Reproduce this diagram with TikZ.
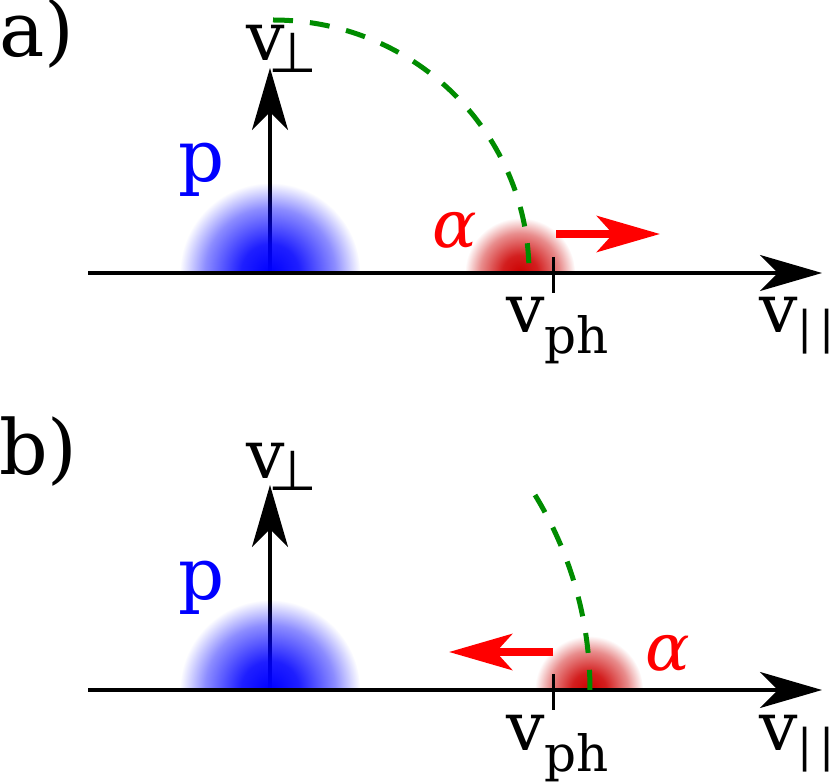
\documentclass[tikz,border=0pt]{standalone}
\usepackage{fontspec}
\setmainfont{DejaVu Serif}
\newfontfamily\dvsans{DejaVu Sans}
\usetikzlibrary{arrows.meta,fadings}
\definecolor{dgreen}{RGB}{0,140,0}
\definecolor{blobred}{RGB}{205,0,0}
\definecolor{pblue}{RGB}{0,0,255}
\definecolor{ared}{RGB}{255,0,0}
\pgfdeclareradialshading{blobmask}{\pgfpoint{0bp}{0bp}}{color(0bp)=(white); color(8bp)=(white!88!black); color(18bp)=(white!45!black); color(25bp)=(black); color(50bp)=(black)}
\pgfdeclarefading{blobfade}{\pgfuseshading{blobmask}}
\tikzset{
  axisarrow/.style={line width=3.2pt, -{Stealth[length=62pt,width=36pt,inset=18pt]}},
  tickmark/.style={line width=3pt},
  phasecurve/.style={dgreen, line width=5pt, dash pattern=on 20pt off 17pt},
  driftarrow/.style={ared, line width=8pt, -{Stealth[length=63pt,width=36pt,inset=16pt]}},
  lbl/.style={inner sep=0pt, anchor=base west, font=\fontsize{68}{68}\selectfont},
}
\newcommand{\subtxt}[2]{\raisebox{-#1pt}{\fontsize{50}{50}\selectfont #2}}
\newcommand{\perpsub}{\kern-16pt\raisebox{-12pt}{\dvsans\fontsize{56}{56}\selectfont ⊥}}
\newcommand{\parsub}{\raisebox{-11pt}{\fontsize{45}{45}\selectfont |\kern7pt|}}
\begin{document}
\begin{tikzpicture}[x=1pt,y=-1pt]
\useasboundingbox (0,0) rectangle (830,783);
% ---------------- panel a ----------------
\coordinate (oa) at (270,273);
\coordinate (ya) at (270,68);
\coordinate (xla) at (88,273);
\coordinate (xra) at (822,273);
\coordinate (ttopa) at (553,257);
\coordinate (tbota) at (553,293);
\coordinate (arca) at (273,20);
\coordinate (dsa) at (556,234);
\coordinate (dea) at (660,234);
\begin{scope}
  \clip (450,200) rectangle (600,273);
  \fill[blobred, path fading=blobfade] (520,273) circle[radius=55];
\end{scope}
\draw[axisarrow] (oa) -- (ya);
\begin{scope}
  \clip (170,170) rectangle (370,273);
  \fill[pblue, path fading=blobfade] (oa) circle[radius=90];
\end{scope}
\draw[axisarrow] (xla) -- (xra);
\draw[tickmark] (ttopa) -- (tbota);
\draw[phasecurve] (arca) arc[start angle=-90, end angle=0, x radius=256, y radius=253];
\draw[driftarrow] (dsa) -- (dea);
\node[lbl, font=\fontsize{76}{76}\selectfont] (laba) at (-1,57) {a)};
\node[lbl, text=pblue, font=\fontsize{72}{72}\selectfont] (pa) at (178,182) {p};
\node[lbl] (vperpa) at (246,61) {v\perpsub};
\node[lbl] (vpha) at (506,333) {v\subtxt{21}{ph}};
\node[lbl] (vpara) at (759,333) {v\parsub};
\node[lbl, text=ared, font=\itshape\fontsize{66}{66}\selectfont] (alphaa) at (432,248) {α};
% ---------------- panel b ----------------
\coordinate (ob) at (270,690);
\coordinate (yb) at (270,485);
\coordinate (xlb) at (88,690);
\coordinate (xrb) at (822,690);
\coordinate (ttopb) at (553,674);
\coordinate (tbotb) at (553,710);
\coordinate (arcb) at (535,495);
\coordinate (dsb) at (553,652);
\coordinate (deb) at (449,652);
\begin{scope}
  \clip (520,620) rectangle (660,690);
  \fill[blobred, path fading=blobfade] (589,690) circle[radius=54];
\end{scope}
\draw[axisarrow] (ob) -- (yb);
\begin{scope}
  \clip (170,590) rectangle (370,690);
  \fill[pblue, path fading=blobfade] (ob) circle[radius=90];
\end{scope}
\draw[axisarrow] (xlb) -- (xrb);
\draw[tickmark] (ttopb) -- (tbotb);
\draw[phasecurve] (arcb) arc[start angle=-31.5, end angle=0, radius=373];
\draw[driftarrow] (dsb) -- (deb);
\node[lbl, font=\fontsize{76}{76}\selectfont] (labb) at (-1,474) {b)};
\node[lbl, text=pblue, font=\fontsize{72}{72}\selectfont] (pb) at (178,599) {p};
\node[lbl] (vperpb) at (246,478) {v\perpsub};
\node[lbl] (vphb) at (506,750) {v\subtxt{21}{ph}};
\node[lbl] (vparb) at (759,750) {v\parsub};
\node[lbl, text=ared, font=\itshape\fontsize{66}{66}\selectfont] (alphab) at (645,670) {α};
\end{tikzpicture}
\end{document}
